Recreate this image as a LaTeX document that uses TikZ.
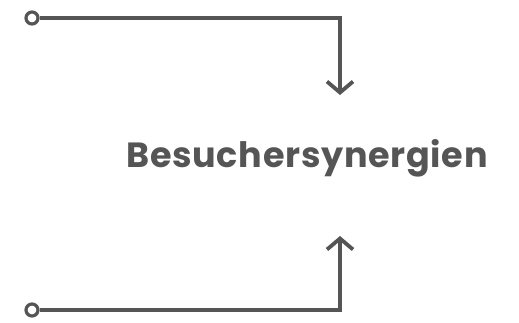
\documentclass[tikz,border=0pt]{standalone}
\usepackage{fontspec}
\setmainfont{Poppins}
\usetikzlibrary{arrows.meta}
\definecolor{ink}{HTML}{555555}
\begin{document}
\begin{tikzpicture}[x=1pt,y=-1pt,
  wire/.style={draw=ink,line width=3.8pt},
  tip/.style={-{Straight Barb[length=11pt,width=26pt,line width=3.8pt]}},
  port/.style={circle,draw=ink,line width=3.2pt,fill=white,minimum size=12pt,inner sep=0pt},
  lbl/.style={text=ink,font=\bfseries\fontsize{35}{40}\selectfont,anchor=base}]
\useasboundingbox (0,0) rectangle (519,322);
\node[port] (s1) at (32,18) {};
\node[port] (s2) at (32,310) {};
\coordinate (e1) at (340,95);
\coordinate (e2) at (340,236);
\draw[wire,tip] (s1) -| (e1);
\draw[wire,tip] (s2) -| (e2);
\node[lbl] (t) at (307,167) {\addfontfeature{LetterSpace=2}Besuchersynergien};
\end{tikzpicture}
\end{document}
